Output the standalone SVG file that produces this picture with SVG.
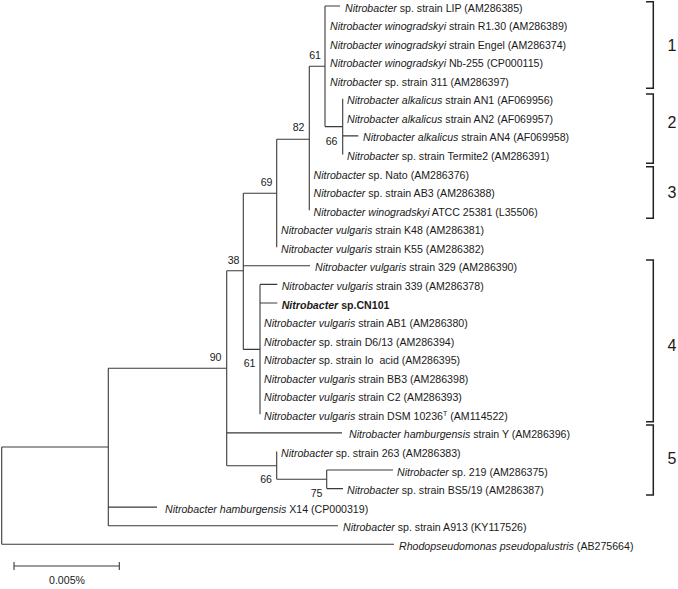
<svg xmlns="http://www.w3.org/2000/svg" width="678" height="589" viewBox="0 0 678 589">
<style>
text{font-family:"Liberation Sans",Arial,sans-serif;font-size:10.6px;fill:#1a1a1a}
.i{font-style:italic}
.b{font-weight:bold}
.bs{text-anchor:end}
.num{font-size:16px;text-anchor:middle}
.sc{text-anchor:middle}
#connectors path{fill:none;stroke:#3a3a3a;stroke-width:1.1}
#brackets path{fill:none;stroke:#222;stroke-width:1.5}
</style>
<rect width="678" height="589" fill="#fff"/>
<g id="connectors">
<path d="M1.7,447V544.2M1.7,447H108.3M1.7,544.2H394"/>
<path d="M108.3,368.3V525.7M108.3,368.3H226.7M108.3,507.1H157M108.3,525.7H338"/>
<path d="M226.7,270.8V465.8M226.7,270.8H243.3M226.7,432.9H342M226.7,465.8H276.7"/>
<path d="M243.3,193.3V349.4M243.3,193.3H276.7M243.3,265.8H310M243.3,349.4H260"/>
<path d="M276.7,139.3V247.3M276.7,139.3H309.3"/>
<path d="M309.3,66.3V210.2M309.3,66.3H325"/>
<path d="M325,6V126.6M325,6H340M325,126.6H342.7"/>
<path d="M342.7,98.8V154.5M342.7,135.9H358.3"/>
<path d="M260,284.4V414.3M260,284.4H277.3M260,303H277.3"/>
<path d="M276.7,451.4V479.3M276.7,479.3H326.7"/>
<path d="M326.7,470V488.6M326.7,470H393M326.7,488.6H343"/>
</g>
<g id="leaf-LIP"><text x="345" y="11.5"><tspan class="i">Nitrobacter</tspan> sp. strain LIP (AM286385)</text></g>
<g id="leaf-R130"><text x="330" y="30.1"><tspan class="i">Nitrobacter winogradskyi</tspan> strain R1.30 (AM286389)</text></g>
<g id="leaf-Engel"><text x="330" y="48.6"><tspan class="i">Nitrobacter winogradskyi</tspan> strain Engel (AM286374)</text></g>
<g id="leaf-Nb255"><text x="330" y="67.2"><tspan class="i">Nitrobacter winogradskyi</tspan> Nb-255 (CP000115)</text></g>
<g id="leaf-311"><text x="330" y="85.7"><tspan class="i">Nitrobacter</tspan> sp. strain 311 (AM286397)</text></g>
<g id="leaf-AN1"><text x="347" y="104.3"><tspan class="i">Nitrobacter alkalicus</tspan> strain AN1 (AF069956)</text></g>
<g id="leaf-AN2"><text x="347" y="122.9"><tspan class="i">Nitrobacter alkalicus</tspan> strain AN2 (AF069957)</text></g>
<g id="leaf-AN4"><text x="363" y="141.4"><tspan class="i">Nitrobacter alkalicus</tspan> strain AN4 (AF069958)</text></g>
<g id="leaf-Termite2"><text x="347" y="160"><tspan class="i">Nitrobacter</tspan> sp. strain Termite2 (AM286391)</text></g>
<g id="leaf-Nato"><text x="313.5" y="178.5"><tspan class="i">Nitrobacter</tspan> sp. Nato (AM286376)</text></g>
<g id="leaf-AB3"><text x="313.5" y="197.1"><tspan class="i">Nitrobacter</tspan> sp. strain AB3 (AM286388)</text></g>
<g id="leaf-ATCC"><text x="313.5" y="215.7"><tspan class="i">Nitrobacter winogradskyi</tspan> ATCC 25381 (L35506)</text></g>
<g id="leaf-K48"><text x="281" y="234.2"><tspan class="i">Nitrobacter vulgaris</tspan> strain K48 (AM286381)</text></g>
<g id="leaf-K55"><text x="281" y="252.8"><tspan class="i">Nitrobacter vulgaris</tspan> strain K55 (AM286382)</text></g>
<g id="leaf-329"><text x="315" y="271.3"><tspan class="i">Nitrobacter vulgaris</tspan> strain 329 (AM286390)</text></g>
<g id="leaf-339"><text x="281.7" y="289.9"><tspan class="i">Nitrobacter vulgaris</tspan> strain 339 (AM286378)</text></g>
<g id="leaf-CN101"><text x="281.7" y="308.5" class="b"><tspan class="i">Nitrobacter</tspan> sp.CN101</text></g>
<g id="leaf-AB1"><text x="264" y="327"><tspan class="i">Nitrobacter vulgaris</tspan> strain AB1 (AM286380)</text></g>
<g id="leaf-D613"><text x="264" y="345.6"><tspan class="i">Nitrobacter</tspan> sp. strain D6/13 (AM286394)</text></g>
<g id="leaf-Ioacid"><text x="264" y="364.1" style="white-space:pre"><tspan class="i">Nitrobacter</tspan> sp. strain Io  acid (AM286395)</text></g>
<g id="leaf-BB3"><text x="264" y="382.7"><tspan class="i">Nitrobacter vulgaris</tspan> strain BB3 (AM286398)</text></g>
<g id="leaf-C2"><text x="264" y="401.3"><tspan class="i">Nitrobacter vulgaris</tspan> strain C2 (AM286393)</text></g>
<g id="leaf-DSM"><text x="264" y="419.8"><tspan class="i">Nitrobacter vulgaris</tspan> strain DSM 10236<tspan font-size="7" dy="-4">T</tspan><tspan dy="4"> (AM114522)</tspan></text></g>
<g id="leaf-hamY"><text x="349" y="438.4"><tspan class="i">Nitrobacter hamburgensis</tspan> strain Y (AM286396)</text></g>
<g id="leaf-263"><text x="281" y="456.9"><tspan class="i">Nitrobacter</tspan> sp. strain 263 (AM286383)</text></g>
<g id="leaf-219"><text x="397" y="475.5"><tspan class="i">Nitrobacter</tspan> sp. 219 (AM286375)</text></g>
<g id="leaf-BS519"><text x="347" y="494.1"><tspan class="i">Nitrobacter</tspan> sp. strain BS5/19 (AM286387)</text></g>
<g id="leaf-X14"><text x="165" y="512.6"><tspan class="i">Nitrobacter hamburgensis</tspan> X14 (CP000319)</text></g>
<g id="leaf-A913"><text x="343" y="531.2"><tspan class="i">Nitrobacter</tspan> sp. strain A913 (KY117526)</text></g>
<g id="leaf-Rhodo"><text x="399" y="549.7"><tspan class="i">Rhodopseudomonas pseudopalustris</tspan> (AB275664)</text></g>
<g id="bootstrap">
<text class="bs" x="321" y="59">61</text>
<text class="bs" x="304.5" y="131">82</text>
<text class="bs" x="337.5" y="145">66</text>
<text class="bs" x="272.5" y="185.5">69</text>
<text class="bs" x="239.5" y="264">38</text>
<text class="bs" x="221.5" y="361">90</text>
<text class="bs" x="255.5" y="367">61</text>
<text class="bs" x="272" y="483">66</text>
<text class="bs" x="322.5" y="496.5">75</text>
</g>
<g id="brackets">
<path d="M646,1.7H653.3V88.3H646"/>
<path d="M646,94H653.3V163.3H646"/>
<path d="M646,166.7H653.3V218.3H646"/>
<path d="M646,260H653.3V421.7H646"/>
<path d="M646,425H653.3V495H646"/>
<text class="num" x="672" y="51">1</text>
<text class="num" x="672" y="127.5">2</text>
<text class="num" x="672" y="197.5">3</text>
<text class="num" x="672" y="351">4</text>
<text class="num" x="672" y="464">5</text>
</g>
<g id="scalebar">
<path d="M14,566H119.3M14,562V570M119.3,562V570" fill="none" stroke="#3a3a3a" stroke-width="1.1"/>
<text class="sc" x="67" y="584">0.005%</text>
</g>
</svg>
